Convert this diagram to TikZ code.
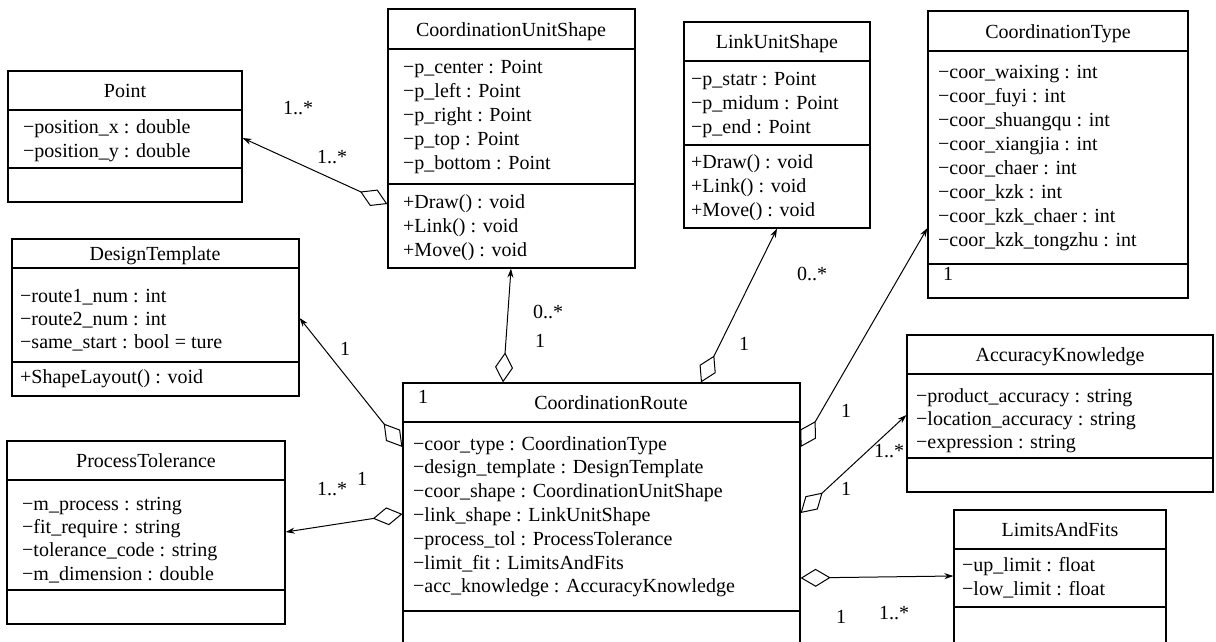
\documentclass[tikz,border=0pt]{standalone}
\usepackage{fontspec}
\setmainfont{Liberation Serif}
\newfontfamily\umlfont{Liberation Serif}
\usetikzlibrary{arrows.meta,fit}

% #1 name, #2 left, #3 top, #4 right, #5 bottom, #6 title rule, #7 member rule, #8 title x, #9 title
\newcommand\umlclassbox[9]{%
  \node[classframe, fit={(#2,#3) (#4,#5)}] (#1) {};
  \draw[classrule] (#2,#6) -- (#4,#6);
  \draw[classrule] (#2,#7) -- (#4,#7);
  \node[classtitle] (#1-title) at (#8,{(#3+#6)/2+7}) {#9};
}
% #1 name prefix, #2 x, #3 first baseline, #4 line step, #5 list
\newcommand\umlmembers[5]{%
  \foreach \txt [count=\i] in {#5}
    \node[member] (#1-\i) at (#2,{#3+(\i-1)*#4}) {\txt};
}

\tikzset{
  classframe/.style={draw, line width=1.2pt, inner sep=0pt},
  classrule/.style={line width=1.2pt},
  classtitle/.style={anchor=base, inner sep=0pt},
  member/.style={anchor=base west, inner sep=0pt},
  mult/.style={anchor=center, inner sep=0pt},
  aggr/.style={draw, line width=1pt,
    {Diamond[open,length=30pt,width=18pt]}-{Stealth[length=9pt,width=6pt]}},
}

\begin{document}
\begin{tikzpicture}[x=1pt, y=-1pt, font=\umlfont\fontsize{20}{24}\selectfont]
\useasboundingbox[fill=white] (0,0) rectangle (1216,641);

% classes
\umlclassbox{point}{8}{71}{242}{202}{110}{168}{125}{Point}
\umlmembers{point-a}{23}{133}{24}{−position\_x : double,−position\_y : double}

\umlclassbox{cus}{388}{9}{635}{268}{49}{184}{511}{CoordinationUnitShape}
\umlmembers{cus-a}{403}{73}{24}{−p\_center : Point,−p\_left : Point,−p\_right : Point,−p\_top : Point,−p\_bottom : Point}
\umlmembers{cus-o}{403}{208}{24}{+Draw() : void,+Link() : void,+Move() : void}

\umlclassbox{lus}{684}{22}{870}{228}{61}{145}{777}{LinkUnitShape}
\umlmembers{lus-a}{691}{85}{24}{−p\_statr : Point,−p\_midum : Point,−p\_end : Point}
\umlmembers{lus-o}{691}{168}{24}{+Draw() : void,+Link() : void,+Move() : void}

\umlclassbox{ct}{928}{11}{1188}{298}{51}{264}{1058}{CoordinationType}
\umlmembers{ct-a}{938}{78}{24.1}{−coor\_waixing : int,−coor\_fuyi : int,−coor\_shuangqu : int,−coor\_xiangjia : int,−coor\_chaer : int,−coor\_kzk : int,−coor\_kzk\_chaer : int,−coor\_kzk\_tongzhu : int}
\node[mult] (ct-one) at (948,274) {1};

\umlclassbox{dt}{12}{239}{299}{396}{268}{362}{155}{DesignTemplate}
\umlmembers{dt-a}{20}{302}{23}{−route1\_num : int,−route2\_num : int,−same\_start : bool = ture}
\umlmembers{dt-o}{20}{383}{24}{+ShapeLayout() : void}

\umlclassbox{pt}{7}{441}{285}{624}{480}{590}{146}{ProcessTolerance}
\umlmembers{pt-a}{22}{510}{23.4}{−m\_process : string,−fit\_require : string,−tolerance\_code : string,−m\_dimension : double}

\umlclassbox{cr}{403}{383}{800}{660}{422}{611}{611}{CoordinationRoute}
\umlmembers{cr-a}{413}{450}{23.8}{−coor\_type : CoordinationType,−design\_template : DesignTemplate,−coor\_shape : CoordinationUnitShape,−link\_shape : LinkUnitShape,−process\_tol : ProcessTolerance,−limit\_fit : LimitsAndFits,−acc\_knowledge : AccuracyKnowledge}
\node[mult] (cr-one) at (423,397) {1};

\umlclassbox{ak}{907}{335}{1213}{492}{374}{458}{1060}{AccuracyKnowledge}
\umlmembers{ak-a}{916}{402}{23}{−product\_accuracy : string,−location\_accuracy : string,−expression : string}

\umlclassbox{laf}{954}{510}{1166}{660}{549}{607}{1060}{LimitsAndFits}
\umlmembers{laf-a}{962}{571}{24}{−up\_limit : float,−low\_limit : float}

% aggregations
\draw[aggr] (cus.west |- 0,204) -- (point.east |- 0,138);
\draw[aggr] (cr.west |- 0,447) -- (dt.east |- 0,318);
\draw[aggr] (cr.west |- 0,514) -- (pt.east |- 0,532);
\draw[aggr] (cr.north -| 503,0) -- (cus.south -| 511,0);
\draw[aggr] (cr.north -| 701,0) -- (lus.south -| 777,0);
\draw[aggr] (cr.east |- 0,447) -- (ct.west |- 0,228);
\draw[aggr] (cr.east |- 0,513) -- (ak.west |- 0,415);
\draw[aggr] (cr.east |- 0,578) -- (laf.west |- 0,576);

% multiplicities
\node[mult] (m-p1) at (298,108) {1..*};
\node[mult] (m-p2) at (332,157) {1..*};
\node[mult] (m-dt) at (345,349) {1};
\node[mult] (m-pt1) at (332,489) {1..*};
\node[mult] (m-pt2) at (362,479) {1};
\node[mult] (m-cus1) at (548,312) {0..*};
\node[mult] (m-cus2) at (540,341) {1};
\node[mult] (m-lus1) at (812,274) {0..*};
\node[mult] (m-lus2) at (744,344) {1};
\node[mult] (m-ct) at (846,411) {1};
\node[mult] (m-ak1) at (889,451) {1..*};
\node[mult] (m-ak2) at (846,489) {1};
\node[mult] (m-laf1) at (841,617) {1};
\node[mult] (m-laf2) at (894,613) {1..*};
\end{tikzpicture}
\end{document}
